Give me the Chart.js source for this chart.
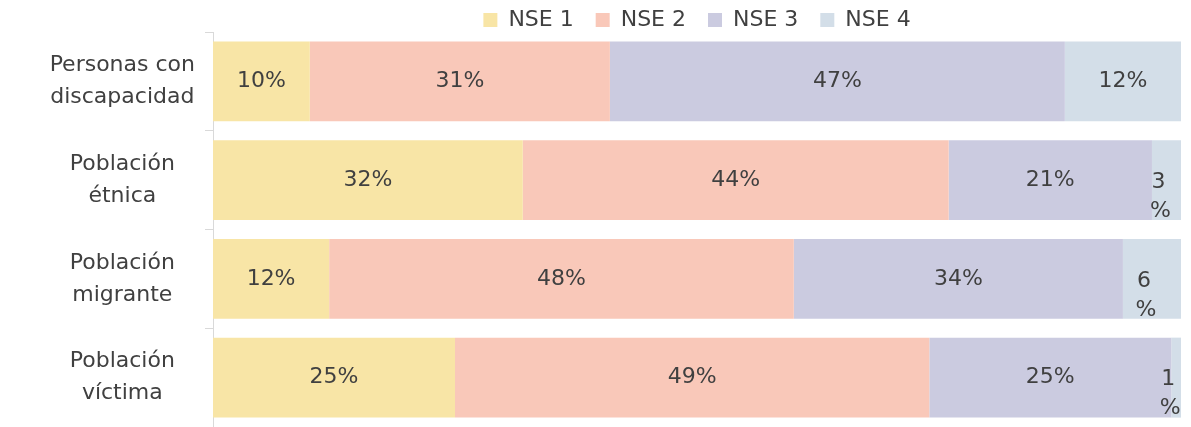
<!DOCTYPE html>
<html>
<head>
<meta charset="utf-8">
<script src="https://cdn.jsdelivr.net/npm/chart.js@4.4.1/dist/chart.umd.min.js"></script>
<style>
  html, body { margin: 0; padding: 0; background: #fff; }
  #wrap { width: 1191px; height: 427px; }
</style>
</head>
<body>
<div id="wrap"><canvas id="myChart" width="1191" height="427"></canvas></div>
<script>
const categories = [
  ['Personas con', 'discapacidad'],
  ['Población', 'étnica'],
  ['Población', 'migrante'],
  ['Población', 'víctima']
];
const seriesNames = ['NSE 1', 'NSE 2', 'NSE 3', 'NSE 4'];
const nse1 = [10, 32, 12, 25];
const nse2 = [31, 44, 48, 49];
const nse3 = [47, 21, 34, 25];
const nse4 = [12, 3, 6, 1];
const colores = ['rgb(248, 229, 166)', 'rgb(249, 200, 185)', 'rgb(203, 203, 224)', 'rgb(211, 222, 232)'];

const fuente = 'DejaVu Sans';
const gris = '#404040';

// etiquetas de valor dentro de cada segmento
const etiquetas = {
  id: 'etiquetas',
  afterDatasetsDraw(chart) {
    const c = chart.ctx;
    c.save();
    c.font = '22px "' + fuente + '"';
    c.fillStyle = gris;
    c.textAlign = 'center';
    c.textBaseline = 'middle';
    chart.data.datasets.forEach((ds, i) => {
      const meta = chart.getDatasetMeta(i);
      meta.data.forEach((bar, j) => {
        const v = ds.data[j];
        const ancho = Math.abs(bar.x - bar.base);
        const cx = (bar.x + bar.base) / 2;
        if (ancho > 65) {
          c.fillText(v + '%', cx, bar.y);
        } else {
          c.fillText(String(v), cx - 8, bar.y + 2);
          c.fillText('%', cx - 6, bar.y + 31);
        }
      });
    });
    c.restore();
  }
};

// la leyenda ocupa menos alto para que las barras empiecen más arriba
const leyendaCompacta = {
  id: 'leyendaCompacta',
  afterInit(chart) {
    const lg = chart.legend;
    if (!lg) return;
    const fitOrig = lg.fit.bind(lg);
    lg.fit = function () {
      fitOrig();
      this.height -= 9;
    };
  }
};

const ctx = document.getElementById('myChart').getContext('2d');

new Chart(ctx, {
  type: 'bar',
  data: {
    labels: categories,
    datasets: [nse1, nse2, nse3, nse4].map((d, i) => ({
      label: seriesNames[i],
      data: d,
      backgroundColor: colores[i],
      borderWidth: 0,
      barPercentage: 0.81,
      categoryPercentage: 1
    }))
  },
  options: {
    indexAxis: 'y',
    responsive: false,
    animation: false,
    layout: { padding: { top: -13, right: 10, bottom: -3, left: 0 } },
    scales: {
      x: {
        stacked: true,
        min: 0,
        max: 100,
        display: false
      },
      y: {
        stacked: true,
        afterFit: (scale) => {
          scale.width = 213;
          scale.paddingTop = 0;
          scale.paddingBottom = 0;
        },
        grid: {
          display: true,
          offset: true,
          drawOnChartArea: false,
          tickLength: 8,
          color: '#d9d9d9'
        },
        border: { display: true, color: '#d9d9d9', width: 1 },
        ticks: {
          color: gris,
          crossAlign: 'center',
          padding: 10,
          font: { family: fuente, size: 22, lineHeight: 1.45 }
        }
      }
    },
    plugins: {
      tooltip: { enabled: false },
      legend: {
        display: true,
        position: 'top',
        fullSize: false,
        labels: {
          color: gris,
          boxWidth: 14,
          boxHeight: 14,
          padding: 22,
          font: { family: fuente, size: 22 }
        }
      }
    }
  },
  plugins: [etiquetas, leyendaCompacta]
});
</script>
</body>
</html>
